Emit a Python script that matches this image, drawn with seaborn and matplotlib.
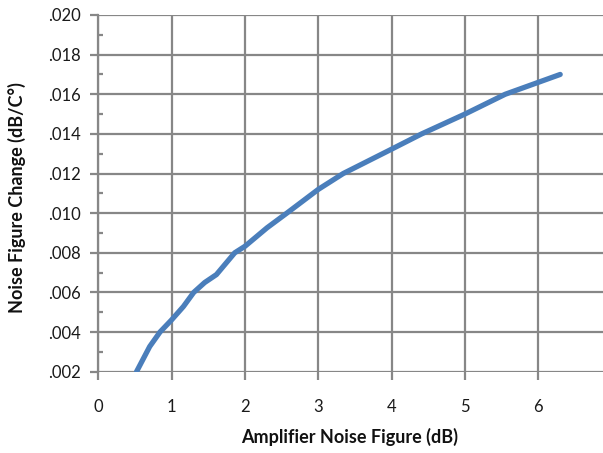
import matplotlib
matplotlib.use("Agg")
import matplotlib.pyplot as plt
from matplotlib.ticker import MultipleLocator, FuncFormatter
import seaborn as sns
import pandas as pd

# Noise-figure temperature coefficient versus amplifier noise figure
noise_figure_db = [0.52, 0.70, 0.84, 1.00, 1.16, 1.30, 1.45, 1.61, 1.86, 2.00,
                   2.30, 2.57, 3.00, 3.34, 4.00, 4.41, 5.00, 5.55, 6.00, 6.30]
nf_change = [0.0020, 0.00327, 0.0040, 0.00462, 0.00529, 0.0060, 0.0065, 0.0069,
             0.0080, 0.00833, 0.00926, 0.0100, 0.0112, 0.0120, 0.01323, 0.0140,
             0.0150, 0.0160, 0.0166, 0.0170]

x_ticks = [0, 1, 2, 3, 4, 5, 6, 7]
y_ticks = [0.002, 0.004, 0.006, 0.008, 0.010, 0.012, 0.014, 0.016, 0.018, 0.020]

sns.set_theme(style="white")
plt.rcParams["font.family"] = ["Lato", "DejaVu Sans"]

df = pd.DataFrame({"nf": noise_figure_db, "dnf": nf_change})

fig = plt.figure(figsize=(6.03, 4.53), dpi=100)
ax = fig.add_axes([0.1632, 0.1795, 0.8509, 0.7874])

grid_col = "#878787"
line_col = "#4A7EBB"

sns.lineplot(data=df, x="nf", y="dnf", ax=ax, color=line_col, linewidth=3.8,
             solid_capstyle="round", solid_joinstyle="round", zorder=3)

ax.set_xlim(0, 7)
ax.set_ylim(0.002, 0.020)
ax.set_xticks(x_ticks)
ax.set_yticks(y_ticks)
ax.yaxis.set_minor_locator(MultipleLocator(0.001))
ax.yaxis.set_major_formatter(FuncFormatter(lambda v, p: f"{v:.3f}".lstrip("0")))
ax.xaxis.set_major_formatter(FuncFormatter(lambda v, p: f"{v:.0f}"))

ax.grid(True, which="major", color=grid_col, linewidth=1.6, zorder=1)
for side in ["top", "right", "bottom"]:
    ax.spines[side].set_visible(False)
ax.spines["left"].set_color(grid_col)
ax.spines["left"].set_linewidth(1.6)

ax.tick_params(axis="x", which="major", direction="out", length=5.5, width=1.6,
               color=grid_col, pad=14, labelsize=12, labelcolor="#1a1a1a",
               bottom=True)
ax.tick_params(axis="y", which="major", direction="out", length=6, width=1.6,
               color=grid_col, pad=7, labelsize=12, labelcolor="#1a1a1a",
               left=True)
ax.tick_params(axis="y", which="minor", direction="in", length=3.5, width=1.6,
               color=grid_col, left=True)

ax.set_xlabel("")
ax.set_ylabel("")
fig.text(350 / 603, 1 - 437 / 453, "Amplifier Noise Figure (dB)", ha="center",
         va="center", fontsize=13, fontweight="bold", color="#111111")
fig.text(17 / 603, 1 - 198 / 453, "Noise Figure Change (dB/C°)", ha="center",
         va="center", rotation=90, fontsize=13, fontweight="bold",
         color="#111111")

fig.savefig("out.png", dpi=100, facecolor="white")
